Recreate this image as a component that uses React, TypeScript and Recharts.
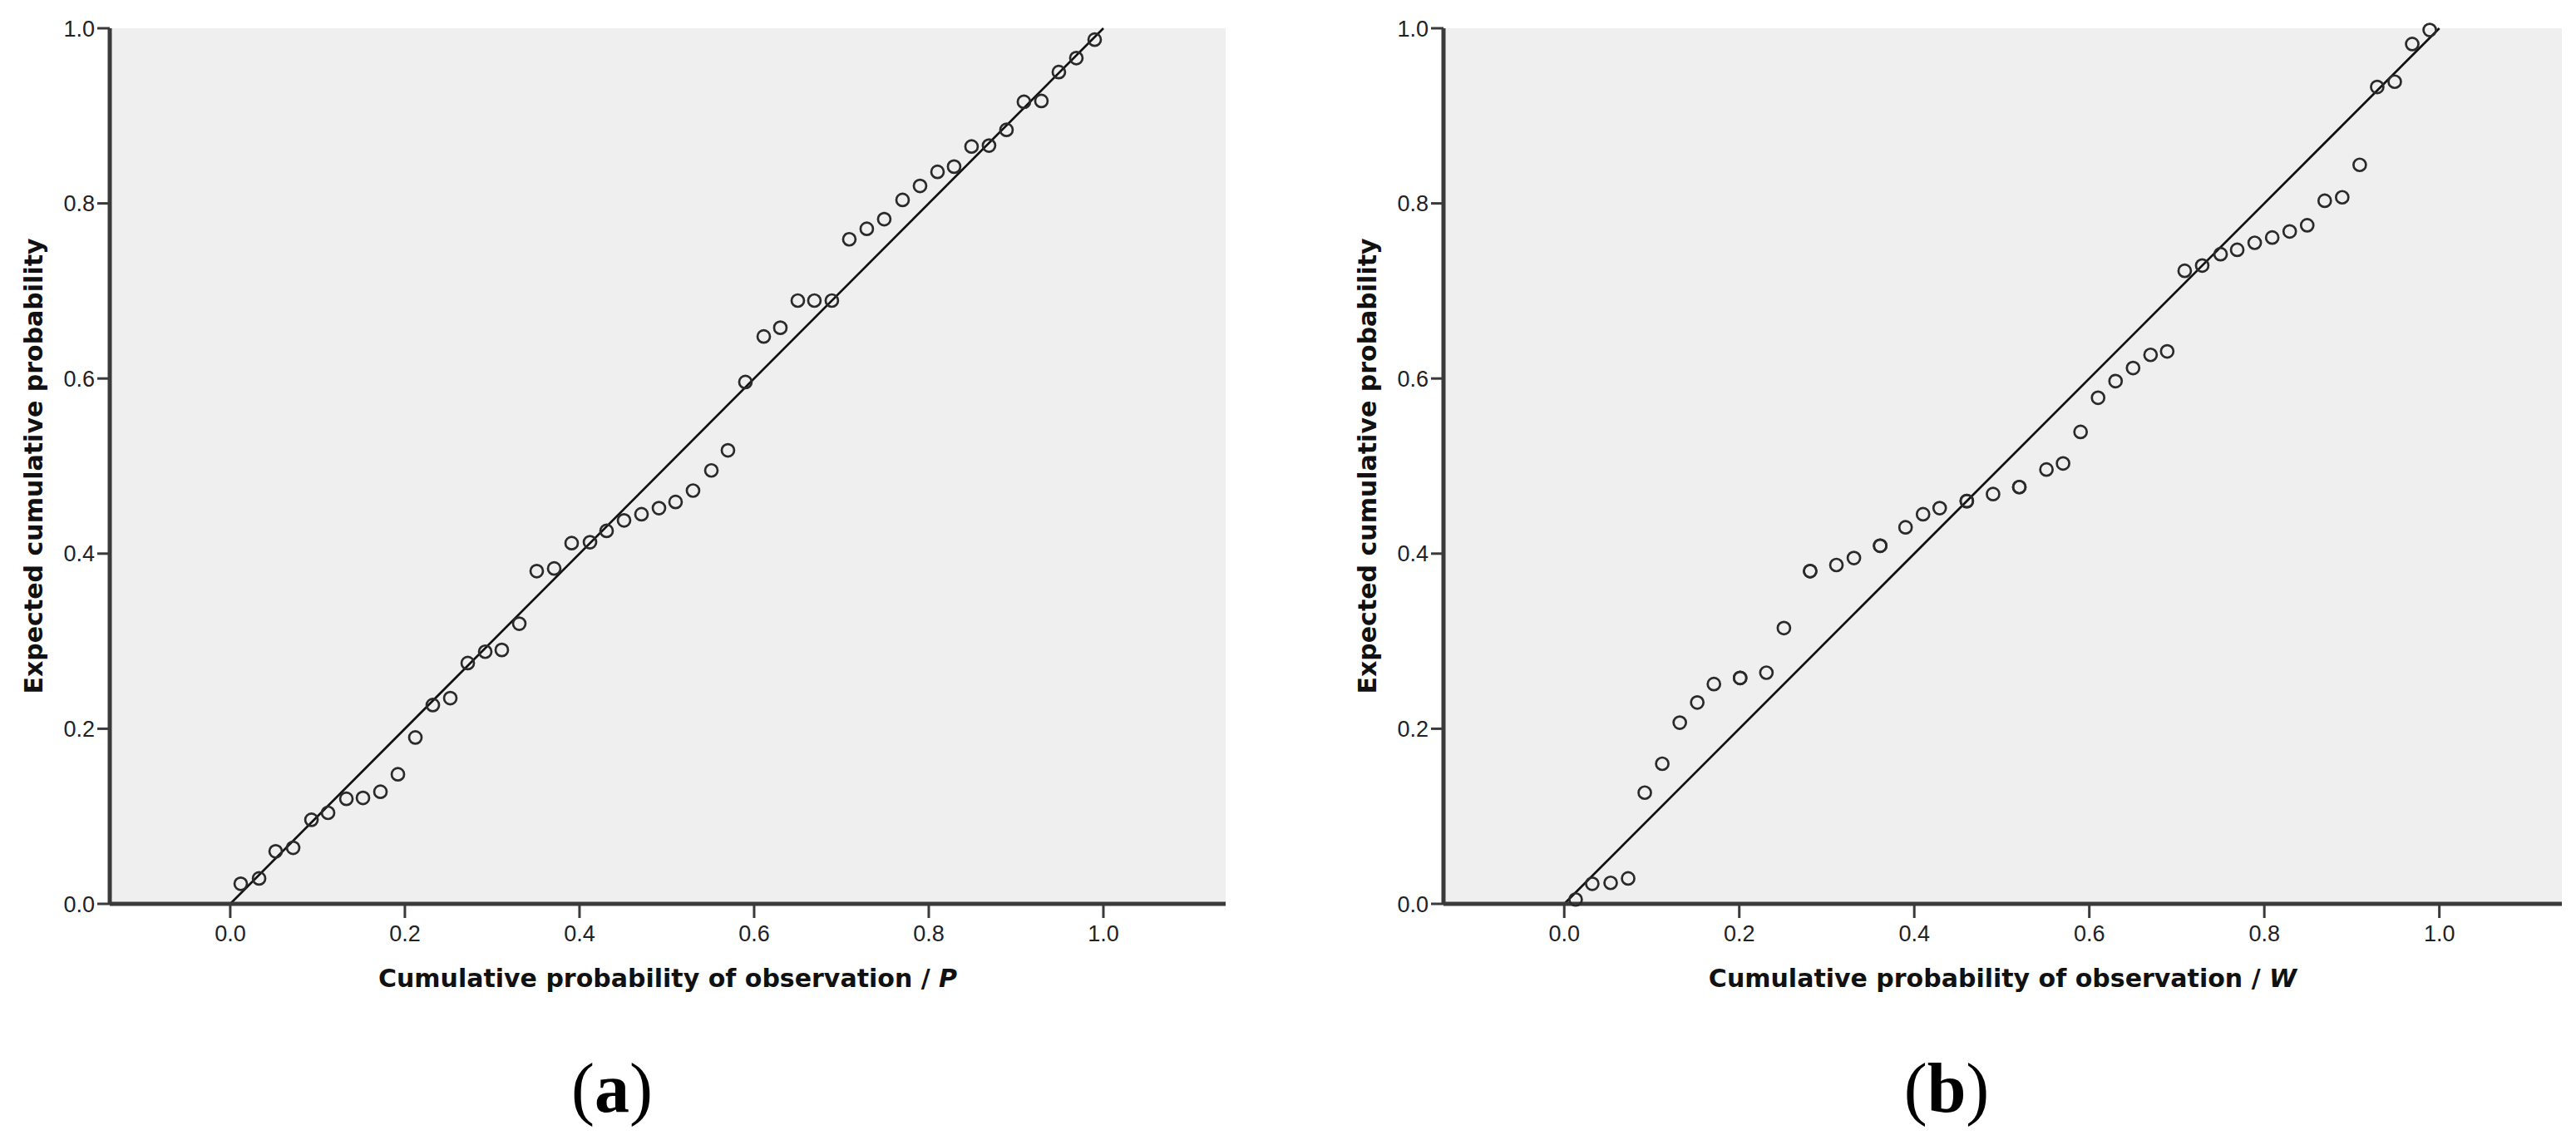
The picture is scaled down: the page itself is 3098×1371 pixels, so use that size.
import React from 'react';
import {
  ScatterChart,
  Scatter,
  XAxis,
  YAxis,
  CartesianGrid,
  ReferenceLine,
  Label,
} from 'recharts';

// panel (a): observed vs expected cumulative probability, P
const P_OBSERVED = [
  0.012, 0.033, 0.052, 0.072, 0.093, 0.112, 0.133, 0.152, 0.172, 0.192,
  0.212, 0.232, 0.252, 0.272, 0.292, 0.311, 0.331, 0.351, 0.371, 0.391,
  0.412, 0.431, 0.451, 0.471, 0.491, 0.510, 0.530, 0.551, 0.570, 0.590,
  0.611, 0.630, 0.650, 0.669, 0.689, 0.709, 0.729, 0.749, 0.770, 0.790,
  0.810, 0.829, 0.849, 0.869, 0.889, 0.909, 0.929, 0.949, 0.969, 0.990,
];
const P_EXPECTED = [
  0.023, 0.029, 0.060, 0.064, 0.096, 0.104, 0.120, 0.121, 0.128, 0.148,
  0.190, 0.227, 0.235, 0.275, 0.288, 0.290, 0.320, 0.380, 0.383, 0.412,
  0.413, 0.426, 0.438, 0.445, 0.452, 0.459, 0.472, 0.495, 0.518, 0.596,
  0.648, 0.658, 0.689, 0.689, 0.689, 0.759, 0.771, 0.782, 0.804, 0.820,
  0.836, 0.842, 0.865, 0.866, 0.884, 0.916, 0.917, 0.950, 0.966, 0.987,
];

// panel (b): W (ties repeat the same point)
const W_OBSERVED = [
  0.013, 0.032, 0.053, 0.073, 0.092, 0.112, 0.132, 0.152, 0.171, 0.201,
  0.201, 0.231, 0.251, 0.281, 0.281, 0.311, 0.331, 0.361, 0.361, 0.390,
  0.410, 0.429, 0.460, 0.460, 0.490, 0.520, 0.520, 0.551, 0.570, 0.590,
  0.610, 0.630, 0.650, 0.670, 0.689, 0.709, 0.729, 0.750, 0.769, 0.789,
  0.809, 0.829, 0.849, 0.869, 0.889, 0.909, 0.929, 0.949, 0.969, 0.989,
];
const W_EXPECTED = [
  0.005, 0.023, 0.024, 0.029, 0.127, 0.160, 0.207, 0.230, 0.251, 0.258,
  0.258, 0.264, 0.315, 0.380, 0.380, 0.387, 0.395, 0.409, 0.409, 0.430,
  0.445, 0.452, 0.460, 0.460, 0.468, 0.476, 0.476, 0.496, 0.503, 0.539,
  0.578, 0.597, 0.612, 0.627, 0.631, 0.723, 0.729, 0.742, 0.747, 0.755,
  0.761, 0.768, 0.775, 0.803, 0.807, 0.844, 0.933, 0.939, 0.982, 0.998,
];

const DIAGONAL = [
  { x: 0, y: 0 },
  { x: 1, y: 1 },
];

const TICKS = [0, 0.2, 0.4, 0.6, 0.8, 1.0];
const X_DOMAIN = [-0.138, 1.14];
const Y_DOMAIN = [0, 1];

const toPoints = (xs: number[], ys: number[]) => xs.map((x, i) => ({ x, y: ys[i] }));

const TICK_FONT = '"Liberation Sans", Arial, sans-serif';
const TITLE_FONT = '"DejaVu Sans", Verdana, sans-serif';
const AXIS_COLOR = '#3a3a3a';

const CHART_W = 1549;
const CHART_H = 1371;
const M_TOP = 34;
const M_BOTTOM = 184;
const X_AXIS_H = 100;
const Y_AXIS_W = 100;
const PLOT_BOTTOM = CHART_H - M_BOTTOM - X_AXIS_H; // 1087

// tick mark + label, placed from the axis position
const XTick = (props: any) => {
  const { x, payload } = props;
  const base = PLOT_BOTTOM;
  return (
    <g>
      <line x1={x} y1={base} x2={x} y2={base + 17} stroke={AXIS_COLOR} strokeWidth={3} />
      <text x={x} y={base + 45} textAnchor="middle" fontFamily={TICK_FONT} fontSize={27} fill="#222" stroke="none">
        {Number(payload.value).toFixed(1)}
      </text>
    </g>
  );
};

const YTick = (props: any) => {
  const { y, payload, axisX } = props;
  return (
    <g>
      <line x1={axisX - 15} y1={y} x2={axisX} y2={y} stroke={AXIS_COLOR} strokeWidth={3} />
      <text x={axisX - 18} y={y} dy={9.5} textAnchor="end" fontFamily={TICK_FONT} fontSize={27} fill="#222" stroke="none">
        {Number(payload.value).toFixed(1)}
      </text>
    </g>
  );
};

const OpenCircle = (props: any) => {
  const { cx, cy } = props;
  if (cx == null || cy == null) return <g />;
  return <circle cx={cx} cy={cy} r={7.5} fill="none" stroke="#2a2a2a" strokeWidth={2.7} />;
};

type PanelProps = {
  data: { x: number; y: number }[];
  variable: string;
  left: number;
  marginLeft: number;
  marginRight: number;
};

const QQPanel: React.FC<PanelProps> = ({ data, variable, left, marginLeft, marginRight }) => {
  const axisX = marginLeft + Y_AXIS_W;
  return (
    <div style={{ position: 'absolute', left, top: 0 }}>
      <ScatterChart
        width={CHART_W}
        height={CHART_H}
        margin={{ top: M_TOP, right: marginRight, bottom: M_BOTTOM, left: marginLeft }}
      >
        <CartesianGrid fill="#efefef" stroke="none" horizontal={false} vertical={false} />
        <XAxis
          xAxisId="top"
          orientation="top"
          type="number"
          domain={X_DOMAIN}
          allowDataOverflow
          height={0}
          tick={false}
          tickLine={false}
          axisLine={{ stroke: '#555', strokeWidth: 3.5 }}
        />
        <YAxis
          yAxisId="right"
          orientation="right"
          type="number"
          domain={Y_DOMAIN}
          width={0}
          tick={false}
          tickLine={false}
          axisLine={{ stroke: '#555', strokeWidth: 3.5 }}
        />
        <XAxis
          type="number"
          dataKey="x"
          domain={X_DOMAIN}
          ticks={TICKS}
          interval={0}
          allowDataOverflow
          height={X_AXIS_H}
          tickLine={false}
          axisLine={{ stroke: AXIS_COLOR, strokeWidth: 5 }}
          tick={<XTick />}
        >
          <Label
            content={(p: any) => {
              const vb = p.viewBox || {};
              return (
                <text
                  x={vb.x + vb.width / 2}
                  y={PLOT_BOTTOM + 100}
                  textAnchor="middle"
                  fontFamily={TITLE_FONT}
                  fontWeight="bold"
                  fontSize={30}
                  fill="#111"
                  stroke="none"
                >
                  <tspan>Cumulative probability of observation / </tspan>
                  <tspan fontStyle="italic">{variable}</tspan>
                </text>
              );
            }}
          />
        </XAxis>
        <YAxis
          type="number"
          dataKey="y"
          domain={Y_DOMAIN}
          ticks={TICKS}
          interval={0}
          width={Y_AXIS_W}
          tickLine={false}
          axisLine={{ stroke: AXIS_COLOR, strokeWidth: 5 }}
          tick={<YTick axisX={axisX} />}
        >
          <Label
            content={() => {
              const tx = axisX - 81;
              const ty = (M_TOP + PLOT_BOTTOM) / 2;
              return (
                <text
                  x={tx}
                  y={ty}
                  transform={`rotate(-90, ${tx}, ${ty})`}
                  textAnchor="middle"
                  fontFamily={TITLE_FONT}
                  fontWeight="bold"
                  fontSize={30}
                  fill="#111"
                  stroke="none"
                >
                  Expected cumulative probability
                </text>
              );
            }}
          />
        </YAxis>
        <ReferenceLine
          segment={DIAGONAL}
          stroke="#111"
          strokeWidth={2.7}
          ifOverflow="visible"
        />
        <Scatter data={data} shape={<OpenCircle />} isAnimationActive={false} />
      </ScatterChart>
    </div>
  );
};

const Caption = ({ x, letter }: { x: number; letter: string }) => (
  <text x={x} y={1337} textAnchor="middle" fontFamily='"Liberation Serif", "Times New Roman", serif' fontSize={84} fill="#000">
    (<tspan fontWeight="bold">{letter}</tspan>)
  </text>
);

export default function App() {
  return (
    <div
      style={{
        position: 'absolute',
        left: 0,
        top: 0,
        width: 3098,
        height: 1371,
        background: '#fff',
        overflow: 'hidden',
      }}
    >
      <QQPanel data={toPoints(P_OBSERVED, P_EXPECTED)} variable="P" left={0} marginLeft={32} marginRight={75} />
      <QQPanel data={toPoints(W_OBSERVED, W_EXPECTED)} variable="W" left={1549} marginLeft={87} marginRight={17} />
      <svg
        width={3098}
        height={1371}
        style={{ position: 'absolute', left: 0, top: 0, pointerEvents: 'none' }}
      >
        <Caption x={736} letter="a" />
        <Caption x={2341} letter="b" />
      </svg>
    </div>
  );
}
